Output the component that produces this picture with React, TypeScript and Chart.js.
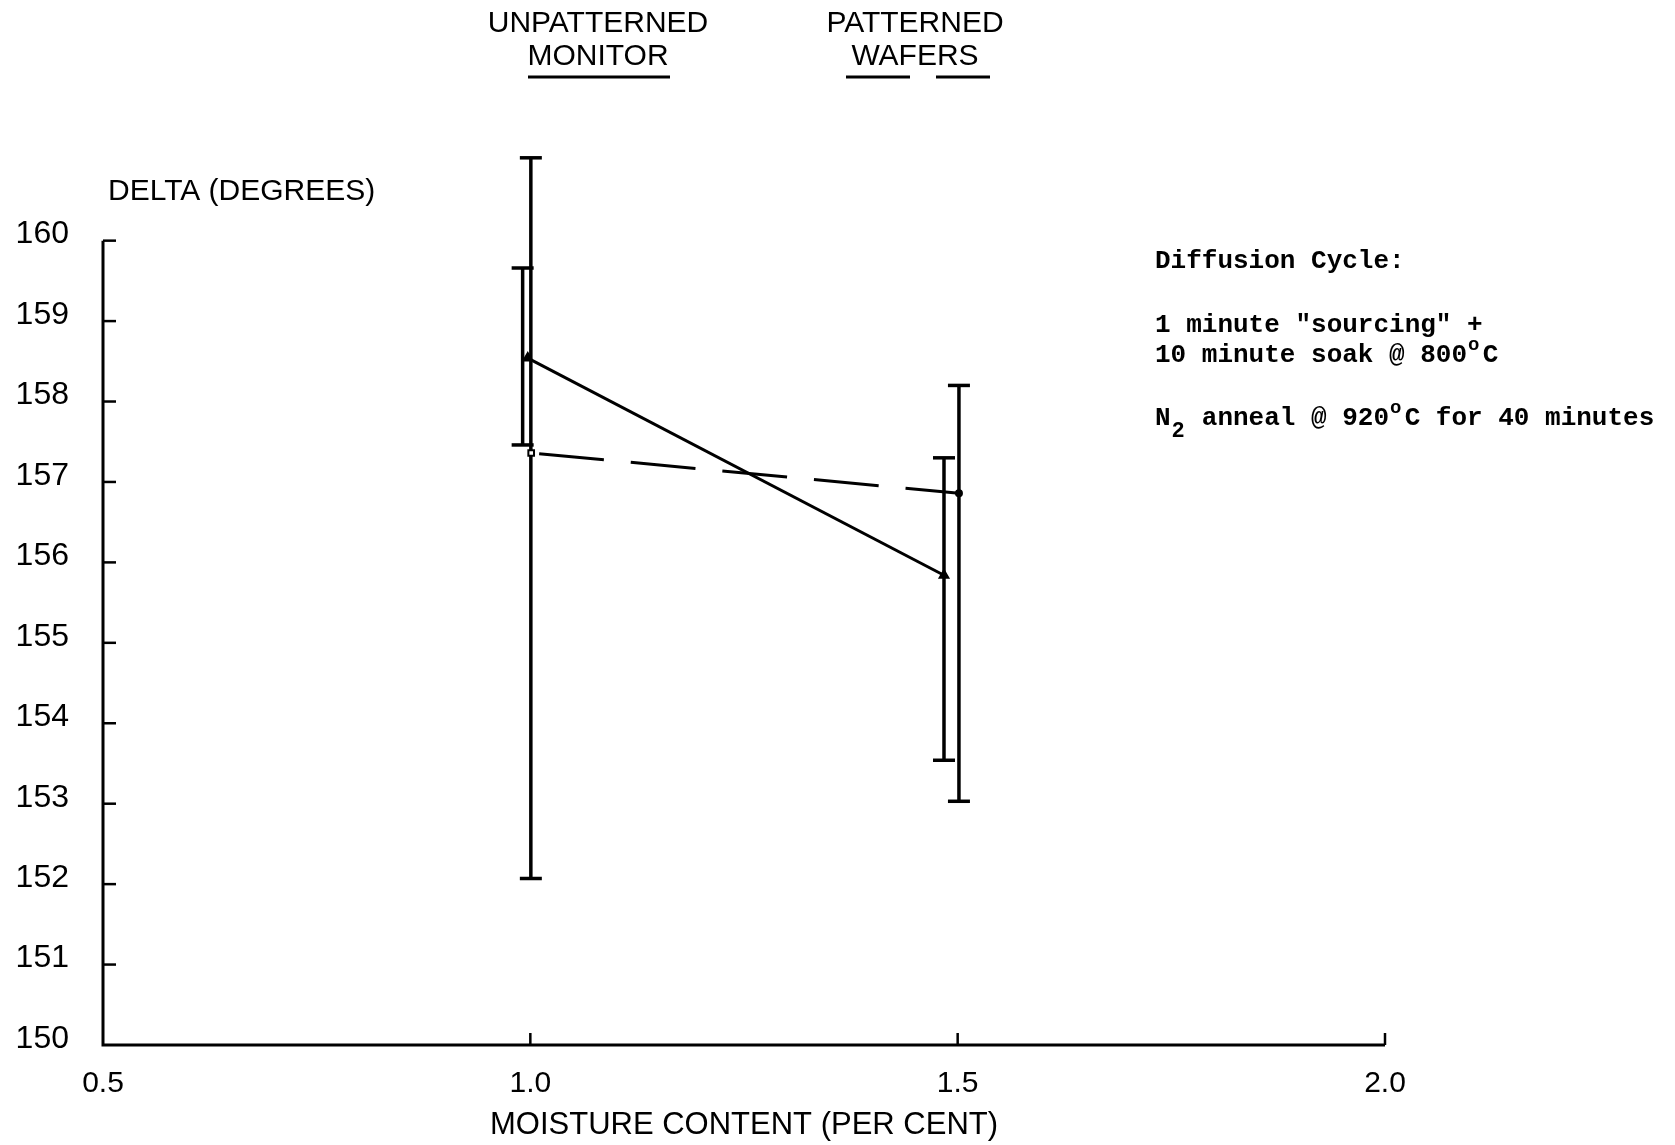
import React, { useEffect, useRef } from "react";
import { Chart, registerables } from "chart.js";

Chart.register(...registerables);

// ---- data ----
const xTickValues = [0.5, 1.0, 1.5, 2.0];
const yTickValues = [150, 151, 152, 153, 154, 155, 156, 157, 158, 159, 160];
const xMin = 0.5;
const xMax = 2.0;
const yMin = 150;
const yMax = 161.5;
const yAxisTop = 160;

// UNPATTERNED MONITOR (solid line)
const monitorX = [0.997, 1.484];
const monitorY = [158.54, 155.84];
const monitorBarX = [0.991, 1.484];
const monitorBarLow = [157.46, 153.54];
const monitorBarHigh = [159.66, 157.3];

// PATTERNED WAFERS (dashed line)
const wafersX = [1.001, 1.5015];
const wafersY = [157.36, 156.86];
const wafersBarX = [1.0006, 1.5015];
const wafersBarLow = [152.07, 153.03];
const wafersBarHigh = [161.03, 158.2];

const yAxisTitle = "DELTA (DEGREES)";
const xAxisTitle = "MOISTURE CONTENT (PER CENT)";
const monitorLabel = ["UNPATTERNED", "MONITOR"];
const wafersLabel = ["PATTERNED", "WAFERS"];

const SANS = '"Liberation Sans", Arial, sans-serif';
const MONO = '"Liberation Mono", "Courier New", monospace';

type Part = { t: string; mode?: "sup" | "sub" };

const noteLines: Part[][] = [
  [{ t: "Diffusion Cycle:" }],
  [{ t: '1 minute "sourcing" +' }],
  [{ t: "10 minute soak @ 800" }, { t: "o", mode: "sup" }, { t: "C" }],
  [
    { t: "N" },
    { t: "2", mode: "sub" },
    { t: " anneal @ 920" },
    { t: "o", mode: "sup" },
    { t: "C for 40 minutes" },
  ],
];
const noteLineY = [261, 325, 355, 418];

function errorBarDatasets(xs: number[], lows: number[], highs: number[]) {
  return xs.map((x, i) => ({
    type: "scatter" as const,
    data: [
      { x, y: lows[i] },
      { x, y: highs[i] },
    ],
    showLine: true,
    borderColor: "#000",
    borderWidth: 3.5,
    pointStyle: "line" as const,
    pointRadius: 11,
    pointBorderWidth: 3.5,
    pointBorderColor: "#000",
    pointBackgroundColor: "#000",
    pointHoverRadius: 11,
  }));
}

const decorPlugin = {
  id: "decor",
  beforeDatasetsDraw(chart: any) {
    const ctx = chart.ctx as CanvasRenderingContext2D;
    const xs = chart.scales.x;
    const ys = chart.scales.y;
    const left = xs.getPixelForValue(xMin);
    const right = xs.getPixelForValue(xMax);
    const bottom = ys.getPixelForValue(yMin);
    const top = ys.getPixelForValue(yAxisTop);
    ctx.save();
    ctx.strokeStyle = "#000";
    ctx.lineCap = "butt";
    // axes
    ctx.lineWidth = 3;
    ctx.beginPath();
    ctx.moveTo(left, top);
    ctx.lineTo(left, bottom);
    ctx.lineTo(right, bottom);
    ctx.stroke();
    // inward ticks
    ctx.lineWidth = 2.5;
    yTickValues.forEach((v) => {
      if (v === yMin) return;
      const py = ys.getPixelForValue(v);
      ctx.beginPath();
      ctx.moveTo(left, py);
      ctx.lineTo(left + 13, py);
      ctx.stroke();
    });
    xTickValues.forEach((v) => {
      if (v === xMin) return;
      const px = xs.getPixelForValue(v);
      ctx.beginPath();
      ctx.moveTo(px, bottom);
      ctx.lineTo(px, bottom - 12);
      ctx.stroke();
    });
    ctx.restore();
  },
  afterDraw(chart: any) {
    const ctx = chart.ctx as CanvasRenderingContext2D;
    ctx.save();
    ctx.fillStyle = "#000";
    ctx.strokeStyle = "#000";
    // y-axis title (horizontal)
    ctx.font = `30px ${SANS}`;
    ctx.textAlign = "left";
    ctx.textBaseline = "middle";
    ctx.fillText(yAxisTitle, 108, 192);

    // top legend-like labels
    ctx.textAlign = "center";
    ctx.font = `30px ${SANS}`;
    ctx.fillText(monitorLabel[0], 598, 24);
    ctx.fillText(monitorLabel[1], 598, 57);
    ctx.fillText(wafersLabel[0], 915, 24);
    ctx.fillText(wafersLabel[1], 915, 57);
    ctx.lineWidth = 3;
    ctx.beginPath();
    ctx.moveTo(528, 77);
    ctx.lineTo(670, 77);
    ctx.stroke();
    ctx.setLineDash([64, 26]);
    ctx.beginPath();
    ctx.moveTo(846, 77);
    ctx.lineTo(990, 77);
    ctx.stroke();
    ctx.setLineDash([]);

    // note block
    const base = 26;
    const small = 19;
    ctx.textAlign = "left";
    noteLines.forEach((parts, i) => {
      let x = 1155;
      const y = noteLineY[i];
      parts.forEach((p) => {
        ctx.font = `bold ${base}px ${MONO}`;
        const adv = ctx.measureText(p.t).width;
        if (p.mode === "sup") {
          ctx.font = `bold ${small}px ${MONO}`;
          ctx.fillText(p.t, x + 1, y - 10);
        } else if (p.mode === "sub") {
          ctx.font = `bold ${small + 3}px ${MONO}`;
          ctx.fillText(p.t, x + 1, y + 13);
        } else {
          ctx.fillText(p.t, x, y);
        }
        x += adv;
      });
    });
    ctx.restore();
  },
};

export default function App() {
  const canvasRef = useRef<HTMLCanvasElement | null>(null);

  useEffect(() => {
    document.body.style.margin = "0";
    document.body.style.overflow = "hidden";
    const canvas = canvasRef.current;
    if (!canvas) return;

    const chart = new Chart(canvas, {
      type: "scatter",
      data: {
        datasets: [
          {
            type: "scatter",
            data: monitorX.map((x, i) => ({ x, y: monitorY[i] })),
            showLine: true,
            borderColor: "#000",
            borderWidth: 3,
            pointStyle: "triangle",
            pointRadius: 4,
            pointBackgroundColor: "#000",
            pointBorderColor: "#000",
          },
          {
            type: "scatter",
            data: wafersX.map((x, i) => ({ x, y: wafersY[i] })),
            showLine: true,
            borderColor: "#000",
            borderWidth: 3,
            borderDash: [65, 27],
            borderDashOffset: -8,
            pointStyle: ["rect", "circle"],
            pointRadius: [4, 3],
            pointBorderWidth: 2,
            pointBackgroundColor: ["#fff", "#000"],
            pointBorderColor: "#000",
          },
          ...errorBarDatasets(monitorBarX, monitorBarLow, monitorBarHigh),
          ...errorBarDatasets(wafersBarX, wafersBarLow, wafersBarHigh),
        ] as any,
      },
      options: {
        responsive: false,
        animation: false,
        devicePixelRatio: 1,
        layout: { padding: { top: 120, right: 290, bottom: 0, left: 0 } },
        plugins: {
          legend: { display: false },
          tooltip: { enabled: false },
          title: { display: false },
        },
        events: [],
        scales: {
          x: {
            type: "linear",
            min: xMin,
            max: xMax,
            afterBuildTicks: (scale: any) => {
              scale.ticks = xTickValues.map((v) => ({ value: v }));
            },
            afterFit: (scale: any) => {
              scale.height = 100;
            },
            grid: { display: false, drawTicks: false },
            border: { display: false },
            ticks: {
              color: "#000",
              font: { family: SANS, size: 30 },
              padding: 21,
              maxRotation: 0,
              autoSkip: false,
              callback: (v: any) => Number(v).toFixed(1),
            },
            title: {
              display: true,
              text: xAxisTitle,
              color: "#000",
              font: { family: SANS, size: 31 },
              padding: { top: 0, bottom: 1 },
            },
          },
          y: {
            type: "linear",
            min: yMin,
            max: yMax,
            afterBuildTicks: (scale: any) => {
              scale.ticks = yTickValues.map((v) => ({ value: v }));
            },
            afterFit: (scale: any) => {
              scale.width = 103;
            },
            grid: { display: false, drawTicks: false },
            border: { display: false },
            ticks: {
              color: "#000",
              font: { family: SANS, size: 32 },
              padding: 34,
              labelOffset: -6,
              autoSkip: false,
              callback: (v: any) => String(v),
            },
          },
        },
      },
      plugins: [decorPlugin],
    } as any);

    return () => {
      chart.destroy();
    };
  }, []);

  return (
    <div style={{ width: 1675, height: 1145, background: "#fff" }}>
      <canvas
        ref={canvasRef}
        width={1675}
        height={1145}
        style={{ width: 1675, height: 1145, display: "block" }}
      />
    </div>
  );
}
